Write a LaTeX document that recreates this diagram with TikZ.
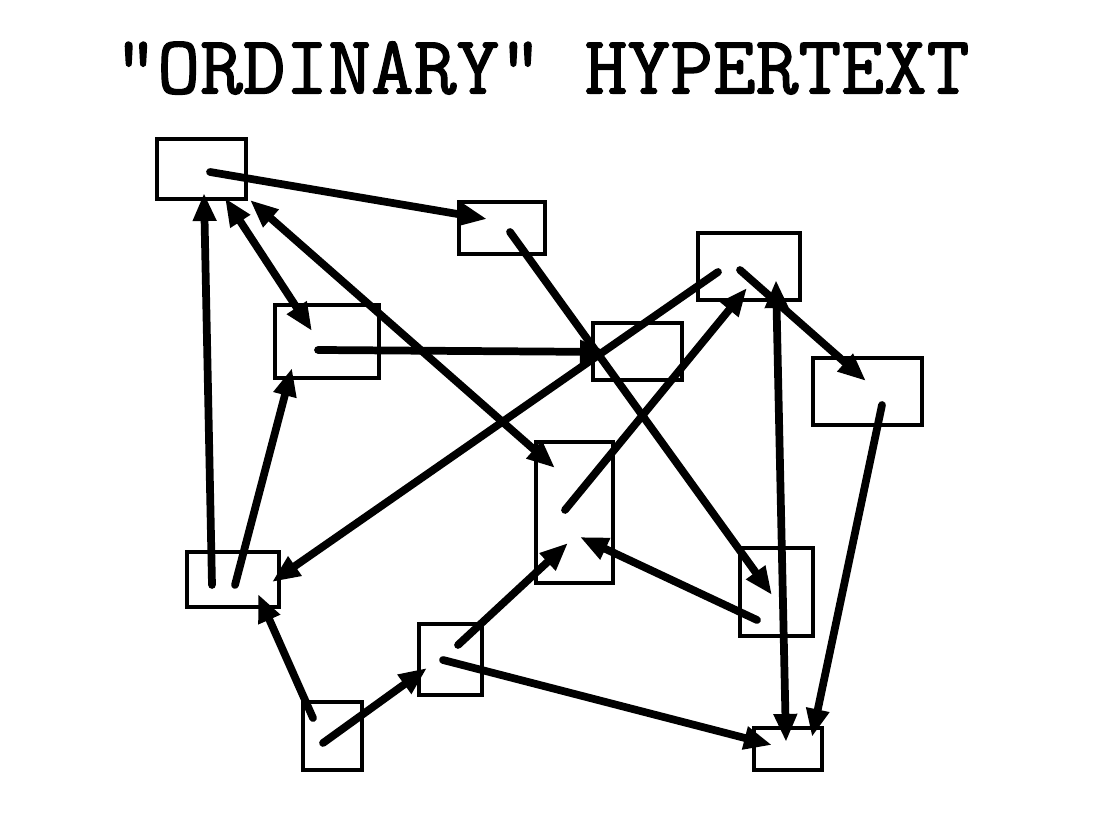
\documentclass[tikz,border=0pt]{standalone}
\usepackage{fontspec}
\newfontfamily\titlefont{Latin Modern Mono}[FakeBold=1.6]
\usepackage{tikz}
\usetikzlibrary{arrows.meta, calc}
\tikzstyle{card} = [rectangle,
inner sep=0pt,
line width=1.1pt,
draw=black]
\tikzstyle{link} = [line width=2.2pt, line cap=round,
-{Triangle[length=0.28cm,width=0.22cm]}]
\tikzstyle{twoway} = [line width=2.2pt, line cap=round,
{Triangle[length=0.28cm,width=0.22cm]}-{Triangle[length=0.28cm,width=0.22cm]}]

\begin{document}
\begin{tikzpicture}[x=0.01cm, y=-0.01cm]
                \useasboundingbox (0,0) rectangle (1105,819);
                \node (title) at (542,68) {\titlefont\bfseries\fontsize{23.6}{26}\selectfont "ORDINARY" HYPERTEXT};

                % the cards
                \node (a) [card, minimum width=0.89cm, minimum height=0.60cm] at (201.5,169) {};
                \node (b) [card, minimum width=0.86cm, minimum height=0.52cm] at (502,228) {};
                \node (c) [card, minimum width=1.02cm, minimum height=0.67cm] at (749,266.5) {};
                \node (d) [card, minimum width=1.04cm, minimum height=0.73cm] at (327,341.5) {};
                \node (e) [card, minimum width=0.89cm, minimum height=0.57cm] at (637.5,351.5) {};
                \node (f) [card, minimum width=1.09cm, minimum height=0.67cm] at (867.5,391.5) {};
                \node (g) [card, minimum width=0.77cm, minimum height=1.41cm] at (574.5,512.5) {};
                \node (h) [card, minimum width=0.92cm, minimum height=0.55cm] at (233,579.5) {};
                \node (i) [card, minimum width=0.73cm, minimum height=0.88cm] at (776.5,592) {};
                \node (j) [card, minimum width=0.63cm, minimum height=0.71cm] at (450.5,659.5) {};
                \node (k) [card, minimum width=0.59cm, minimum height=0.68cm] at (332.5,736) {};
                \node (l) [card, minimum width=0.68cm, minimum height=0.42cm] at (788,749) {};

                % the links
                \draw [link] ($(a)+(8.5,3)$) -- ($(b)+(-15,-9)$);
                \draw [link] ($(b)+(8,4)$) -- ($(i)+(-4.5,3)$);
                \draw [twoway] ($(a)+(23.5,29)$) -- ($(d)+(-15,-10.5)$);
                \draw [twoway] ($(a)+(48.5,31)$) -- ($(g)+(-19.5,-44.5)$);
                \draw [link] ($(h)+(-21,5.5)$) -- ($(a)+(2.5,24)$);
                \draw [link] ($(h)+(2,5.5)$) -- ($(d)+(-35,26.5)$);
                \draw [link] ($(c)+(-31,5.5)$) -- ($(h)+(39,2.5)$);
                \draw [link] ($(d)+(-9,8.5)$) -- ($(e)+(-29.5,0.5)$);
                \draw [link] ($(g)+(-9.5,-2.5)$) -- ($(c)+(-2,21.5)$);
                \draw [link] ($(c)+(-9,3.5)$) -- ($(f)+(-1.5,-10.5)$);
                \draw [twoway] ($(c)+(27,13.5)$) -- ($(l)+(-2,-7)$);
                \draw [link] ($(f)+(14.5,13.5)$) -- ($(l)+(24,-12)$);
                \draw [link] ($(i)+(-19.5,28)$) -- ($(g)+(5.5,24.5)$);
                \draw [link] ($(j)+(7.5,-14.5)$) -- ($(g)+(-6.5,30.5)$);
                \draw [link] ($(j)+(-7.5,0.5)$) -- ($(l)+(-16,-4)$);
                \draw [link] ($(k)+(-9.5,7)$) -- ($(j)+(-23.5,8.5)$);
                \draw [link] ($(k)+(-19.5,-18)$) -- ($(h)+(25,14.5)$);
            \end{tikzpicture}
\end{document}
